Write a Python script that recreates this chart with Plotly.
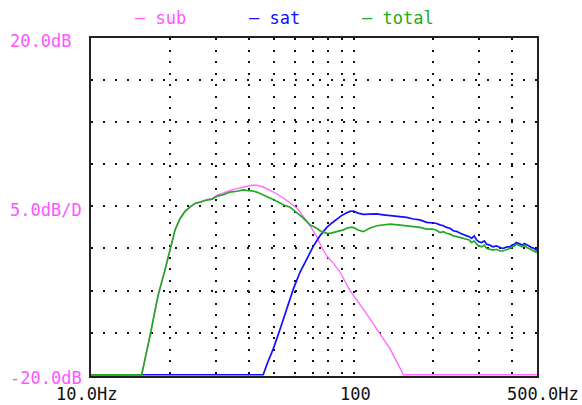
import plotly.graph_objects as go

# ---------------- data ----------------
series_names = ["sub", "sat", "total"]

sub_freq = [10, 15.6, 16.8, 18.0, 19.3, 20.0, 20.9, 21.8, 22.8, 24.0, 24.9, 26.0, 27.6, 29.0,
            30.1, 32.0, 33.8, 36.0, 38.0, 39.2, 40.9, 42.8, 45.3, 48.1, 51.0, 54.0, 57.3,
            60.8, 64.4, 68.3, 72.4, 76.0, 79.1, 84.0, 88.8, 97.0, 109, 122.6, 137.7, 155, 500]
sub_db = [-20, -20, -15.3, -10.6, -7.1, -5.1, -2.8, -1.5, -0.6, 0.0, 0.35, 0.5, 0.8, 0.95,
          1.3, 1.6, 1.9, 2.1, 2.3, 2.4, 2.5, 2.5, 2.3, 1.9, 1.5, 1.0, 0.4,
          -0.2, -1.2, -2.3, -3.6, -5.0, -5.9, -6.8, -7.8, -10.0, -12.2, -14.6, -16.9, -20, -20]

sat_freq = [10, 45.3, 47.0, 49.5, 52.5, 55.7, 59.0, 62.6, 66.3, 70.4, 74.5, 79.1, 82.5, 86.4,
            90, 94.2, 97, 99.8, 104, 109, 115, 122.6, 130, 137.7, 148, 159.5, 169, 179, 190,
            200, 206, 213.5, 220, 226, 233, 240, 248, 255, 262, 270, 276, 282, 288, 294.6, 300,
            308, 315, 321.7, 330, 340, 350, 361.6, 370, 378, 386, 394.7, 402, 410, 417, 424.5,
            432, 440, 448, 456.8, 466, 478, 488, 500]
sat_db = [-20, -20, -18.6, -16.9, -14.6, -12.2, -9.8, -7.8, -6.3, -4.7, -3.5, -2.5, -2.0, -1.5,
          -1.1, -0.75, -0.6, -0.55, -0.8, -0.95, -0.9, -0.9, -1.0, -1.1, -1.2, -1.3, -1.5, -1.6, -1.9,
          -2.0, -2.0, -2.2, -2.3, -2.5, -2.6, -2.9, -3.0, -3.2, -3.3, -3.5, -3.6, -3.8, -3.5, -4.0, -4.2,
          -4.3, -4.1, -4.5, -4.6, -4.8, -4.7, -4.9, -5.0, -4.9, -4.8, -4.8, -4.6, -4.5, -4.3, -4.4,
          -4.5, -4.6, -4.4, -4.6, -4.7, -4.9, -5.0, -5.3]

total_freq = [10, 15.6, 16.8, 18.0, 19.3, 20.0, 20.9, 21.8, 22.8, 24.0, 24.9, 26.0, 27.6, 29.0,
              30.1, 32.0, 33.8, 36.0, 38.0, 39.2, 41.0, 42.8, 45.3, 48.1, 51.0, 54.0, 57.3,
              60.8, 64.4, 68.3, 72.4, 74.5, 77.0, 79.1, 81.5, 83.8, 86.4, 88.8, 91.5, 94.2, 97.0,
              99.8, 104, 109, 115, 122.6, 130, 137.7, 148, 159.5, 169, 179, 190, 200, 206, 213.5,
              220, 226, 233, 240, 248, 255, 262, 270, 276, 282, 288, 294.6, 300, 308, 315, 321.7,
              330, 340, 350, 361.6, 370, 378, 386, 394.7, 402, 410, 417, 424.5, 432, 440, 448,
              456.8, 466, 478, 488, 500]
total_db = [-20, -20, -15.3, -10.6, -7.1, -5.1, -2.8, -1.5, -0.6, 0.0, 0.35, 0.5, 0.75, 0.85,
            1.2, 1.4, 1.7, 1.8, 1.95, 1.9, 1.85, 1.7, 1.4, 1.0, 0.6, 0.2, -0.1,
            -0.75, -1.4, -2.2, -2.6, -2.9, -3.1, -3.2, -3.2, -3.1, -3.0, -2.9, -2.8, -2.6, -2.5,
            -2.5, -2.8, -3.0, -2.6, -2.3, -2.2, -2.1, -2.2, -2.3, -2.4, -2.5, -2.7, -2.7, -2.8, -3.1,
            -3.0, -3.2, -3.3, -3.5, -3.6, -3.7, -3.8, -3.9, -4.0, -4.3, -4.1, -4.5, -4.7,
            -4.8, -4.6, -5.0, -5.1, -5.2, -5.1, -5.3, -5.3, -5.2, -5.1, -5.0, -4.8, -4.7, -4.5, -4.6,
            -4.7, -4.8, -4.6, -4.9, -5.0, -5.2, -5.3, -5.5]

x_grid_vals = [20, 30, 40, 50, 60, 70, 80, 90, 100, 200, 300, 400]
y_grid_vals = [-15, -10, -5, 0, 5, 10, 15]
x_tick_labels = ["10.0Hz", "100", "500.0Hz"]
y_tick_labels = ["20.0dB", "5.0dB/D", "-20.0dB"]

# ---------------- style ----------------
W, H = 582, 405
L, R, T, B = 91, 537, 38, 376
PINK_TXT = "#ff55ff"
colors = {"sub": "#ff6cff", "sat": "#1010ff", "total": "#22aa22"}
FONT = "DejaVu Sans Mono"


def px(x):
    return (x - L) / (R - L)


def py(y):
    return (B - y) / (B - T)


fig = go.Figure()
data = {"sub": (sub_freq, sub_db), "sat": (sat_freq, sat_db), "total": (total_freq, total_db)}
widths = {"sub": 1.4, "sat": 1.7, "total": 1.7}
for name in series_names:
    fx, fy = data[name]
    fig.add_trace(go.Scatter(x=fx, y=fy, mode="lines", name=name,
                             line=dict(color=colors[name], width=widths[name]),
                             showlegend=False))

ann = []
# legend-like labels
for name, left in zip(series_names, [133, 247, 360]):
    ann.append(dict(text="— " + name, x=px(left), y=py(18), xref="paper", yref="paper",
                    xanchor="left", yanchor="middle", showarrow=False,
                    font=dict(family=FONT, size=17, color=colors[name] if name != "sub" else PINK_TXT)))
# y labels
for txt, yc in zip(y_tick_labels, [41, 210, 378]):
    ann.append(dict(text=txt, x=px(8), y=py(yc), xref="paper", yref="paper",
                    xanchor="left", yanchor="middle", showarrow=False,
                    font=dict(family=FONT, size=17, color=PINK_TXT)))
# x labels
for txt, xc in zip(x_tick_labels, [86, 355, 543]):
    ann.append(dict(text=txt, x=px(xc), y=py(394), xref="paper", yref="paper",
                    xanchor="center", yanchor="middle", showarrow=False,
                    font=dict(family=FONT, size=17, color="#111111")))

fig.update_layout(
    width=W, height=H,
    margin=dict(l=L, r=W - R, t=T, b=H - B, pad=0),
    paper_bgcolor="white", plot_bgcolor="white",
    annotations=ann,
    xaxis=dict(type="log", range=[1, 2.69897], tickvals=x_grid_vals, showticklabels=False,
               ticks="", showgrid=True, gridcolor="#111111", gridwidth=2, griddash="2px,9.5px",
               showline=True, linecolor="#222222", linewidth=2, mirror=True,
               layer="below traces", zeroline=False),
    yaxis=dict(range=[-20.15, 20.0], tickvals=y_grid_vals, showticklabels=False,
               ticks="", showgrid=True, gridcolor="#111111", gridwidth=2, griddash="2px,10px",
               showline=True, linecolor="#222222", linewidth=2, mirror=True,
               layer="below traces", zeroline=False),
)

fig.write_html("out.html", config={"displayModeBar": False},
               post_script="document.body.style.margin='0';document.body.style.overflow='hidden';")
